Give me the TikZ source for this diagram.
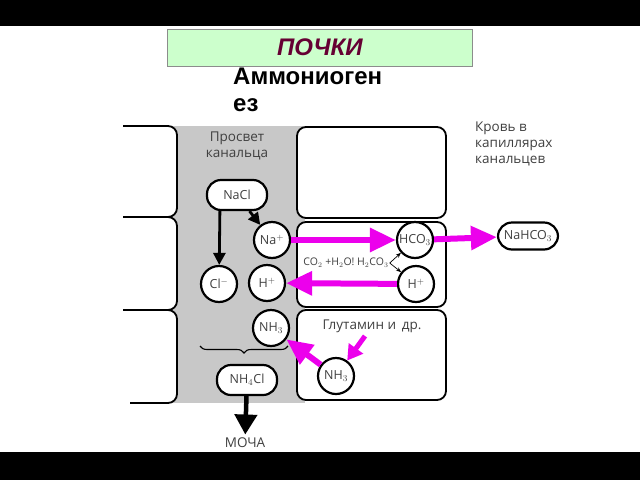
\documentclass[tikz,border=0pt]{standalone}
\usepackage{fontspec}
\setmainfont{Liberation Sans}
\newfontfamily\labfont{Open Sans}
\usetikzlibrary{arrows.meta,decorations.pathreplacing}
\definecolor{pumpc}{RGB}{236,0,236}
\definecolor{lumenc}{RGB}{200,200,200}
\definecolor{titlefill}{RGB}{204,255,204}
\definecolor{titletext}{RGB}{102,0,51}

\begin{document}
\begin{tikzpicture}[x=1pt,y=-1pt,
		wall/.style={line width=1.8pt, rounded corners=9pt},
		ion/.style={circle, draw, line width=2.2pt, fill=white, minimum size=36pt, inner sep=0pt, font=\labfont\fontsize{12.5}{13}\selectfont, text=black!75},
		salt/.style={rectangle, draw, line width=2.2pt, fill=white, rounded corners=14pt, minimum width=60pt, minimum height=30pt, inner sep=0pt, font=\labfont\fontsize{12.5}{13}\selectfont, text=black!75},
		lab/.style={font=\labfont\fontsize{13.5}{16}\selectfont, text=black!75},
		pump/.style={draw=pumpc, line width=6pt, -{Triangle[length=26pt,width=23pt]}},
		pumpsmall/.style={draw=pumpc, line width=5pt, -{Triangle[length=15pt,width=17pt]}},
		split/.style={line width=2.8pt, -{Triangle[length=12pt,width=12pt]}},
		thin/.style={line width=0.7pt, -{Stealth[length=5pt,width=4pt]}}]
	\useasboundingbox (0,0) rectangle (640,480);
	\fill[black] (0,0) rectangle (640,26);
	\fill[black] (0,452) rectangle (640,480);
	\draw[draw=black!45, fill=titlefill] (167,29) rectangle (472,66);
	\draw (320,47) node [font=\fontsize{24}{27}\selectfont\bfseries\itshape, text=titletext] (title) {ПОЧКИ};
	\draw (233,68) node [anchor=north west, inner sep=0pt, align=left, font=\fontsize{24}{27}\selectfont\bfseries] (topic) {Аммониоген\\ез};

	\fill[lumenc] (172,126) rectangle (305,403);
	\draw[wall, fill=white] (123,126) -| (177,217) -- (123,217);
	\draw[wall, fill=white] (123,217) -| (177,310) -- (123,310);
	\draw[wall, fill=white] (123,310) -| (177,403) -- (130,403);
	\draw[wall, fill=white] (297,127) rectangle (446,218);
	\draw[wall, fill=white] (297,222) rectangle (446,307);
	\draw[wall, fill=white] (297,310) rectangle (446,400);

	\draw (237,146) node [lab, align=center] (lumen) {Просвет\\канальца};
	\draw (475,122) node [lab, anchor=north west, align=left, inner sep=0pt] (blood) {Кровь в\\капиллярах\\канальцев};
	\draw (372,326) node [lab] (glut) {Глутамин и\, др.};

	\draw (237,195) node [salt] (nacl) {NaCl};
	\draw (272,240) node [ion] (na) {Na$^+$};
	\draw (219,284) node [ion] (cl) {Cl$^-$};
	\draw (267,283) node [ion] (hl) {H$^+$};
	\draw (271,328) node [ion] (nhl) {NH$_3$};
	\draw (247,380) node [salt] (nh4) {NH$_4$Cl};
	\draw (245,443) node [lab] (urine) {МОЧА};
	\draw (415,240) node [ion] (hco) {HCO$_3$};
	\draw (416,284) node [ion] (hr) {H$^+$};
	\draw (528,236) node [salt, minimum height=27pt] (nahco) {NaHCO$_3$};
	\draw (336,376) node [ion] (nhr) {NH$_3$};
	\draw (346,263) node [font=\labfont\fontsize{10.5}{11}\selectfont, text=black!75, inner sep=1pt] (form) {CO$_2$ +H$_2$O! H$_2$CO$_3$};
	\coordinate (gl) at (365,336);
	\coordinate (bl) at (200,346);
	\coordinate (br) at (288,346);

	\draw[split] (nacl) -- (na);
	\draw[split] (nacl.south west) ++(14,0) coordinate (cls) -- (cl);
	\draw[decorate, decoration={brace, mirror, amplitude=7pt}, line width=1.1pt] (bl) -- (br);
	\draw[line width=4.5pt, -{Triangle[length=20pt,width=22pt]}] (nh4) -- (urine);
	\draw[thin] (form.east) -- (hco);
	\draw[thin] (form.east) -- (hr);
	\draw[pump] (na) -- (hco);
	\draw[pump] (hco) -- (nahco);
	\draw[pump] (hr) -- (hl);
	\draw[pump] (nhr) -- (nhl);
	\draw[pumpsmall] (gl) -- (nhr);
\end{tikzpicture}
\end{document}
